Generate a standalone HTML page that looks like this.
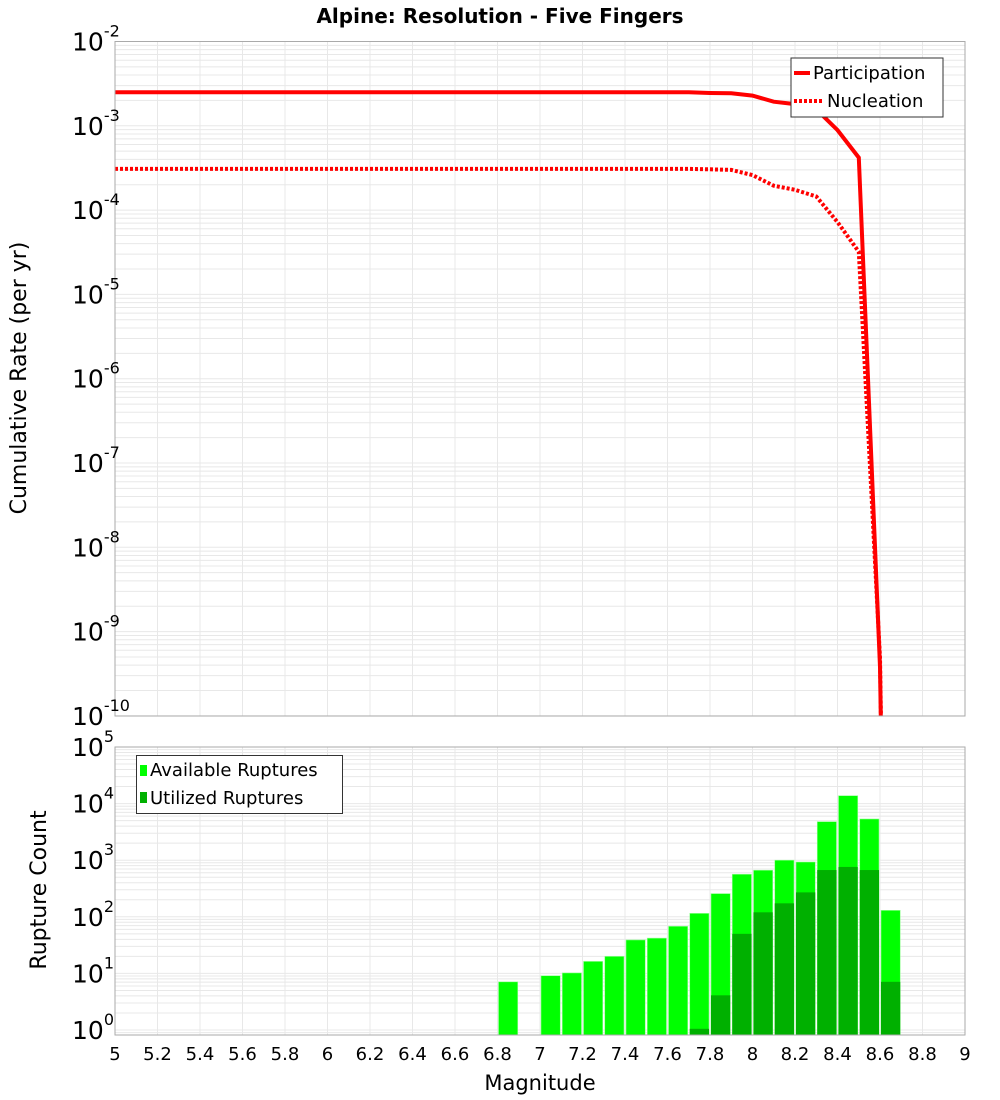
<!DOCTYPE html>
<html><head><meta charset="utf-8"><style>
html,body{margin:0;background:#fff;width:1000px;height:1100px;overflow:hidden;}
svg{display:block;}
svg text{font-family:"DejaVu Sans","Liberation Sans",sans-serif;}
</style></head><body>
<svg id="chart" width="1000" height="1100" xmlns="http://www.w3.org/2000/svg">
<defs><clipPath id="clipTop"><rect x="115" y="41.5" width="850" height="674.5"/></clipPath></defs>
<rect width="1000" height="1100" fill="#fff"/>
<text x="500" y="23" text-anchor="middle" font-size="20" font-weight="bold">Alpine: Resolution - Five Fingers</text>
<g id="top-grid"></g><g id="bot-grid"></g>
<g id="bars"></g><g id="lines"></g>
<rect x="115" y="41.5" width="850" height="674.5" fill="none" stroke="#aaa"/>
<rect x="115" y="747" width="850" height="288" fill="none" stroke="#aaa"/>
<g id="labels"></g>
<text transform="translate(26,378) rotate(-90)" text-anchor="middle" font-size="22">Cumulative Rate (per yr)</text>
<text transform="translate(46,890) rotate(-90)" text-anchor="middle" font-size="22">Rupture Count</text>
<text x="540" y="1090" text-anchor="middle" font-size="21">Magnitude</text>
<g>
<rect x="791" y="58" width="152" height="59" fill="#fff" stroke="#333"/>
<line x1="794" y1="73" x2="810" y2="73" stroke="#f00" stroke-width="4"/>
<text x="813" y="79" font-size="18">Participation</text>
<line x1="794" y1="101" x2="823" y2="101" stroke="#f00" stroke-width="4" stroke-dasharray="3,2"/>
<text x="827" y="107" font-size="18">Nucleation</text>
</g>
<g>
<rect x="136.5" y="755.5" width="206" height="58" fill="#fff" stroke="#333"/>
<rect x="140" y="765" width="7" height="11" fill="#00ff00"/>
<text x="150" y="776" font-size="18">Available Ruptures</text>
<rect x="140" y="792" width="7" height="11" fill="#00b000"/>
<text x="150" y="804" font-size="18">Utilized Ruptures</text>
</g>
</svg>
<script>
const mags=[5,7.7,7.8,7.9,8.0,8.1,8.2,8.3,8.4,8.5,8.6,8.7];
const participation=[2.5e-3,2.5e-3,2.45e-3,2.43e-3,2.28e-3,1.93e-3,1.81e-3,1.57e-3,8.9e-4,4.2e-4,3.8e-10,1e-30];
const nucleation=[3.08e-4,3.08e-4,3.05e-4,3.0e-4,2.6e-4,1.95e-4,1.74e-4,1.45e-4,7.2e-5,3.2e-5,4.9e-10,1e-30];
const binStarts=[6.8,7.0,7.1,7.2,7.3,7.4,7.5,7.6,7.7,7.8,7.9,8.0,8.1,8.2,8.3,8.4,8.5,8.6];
const available=[7.1,9.1,10.2,16.3,20,39,42,68,115,257,565,665,1000,930,4800,13800,5350,130];
const utilized=[0,0,0,0,0,0,0,0,1.05,4.1,50,120,173,270,670,760,670,7.1];
const xTicks=["5","5.2","5.4","5.6","5.8","6","6.2","6.4","6.6","6.8","7","7.2","7.4","7.6","7.8","8","8.2","8.4","8.6","8.8","9"];
const topExps=[-2,-3,-4,-5,-6,-7,-8,-9,-10];
const botExps=[5,4,3,2,1,0];

const NS="http://www.w3.org/2000/svg";
function mk(tag,attrs,parent){const e=document.createElementNS(NS,tag);for(const k in attrs)e.setAttribute(k,attrs[k]);parent.appendChild(e);return e;}
const X=m=>115+(m-5)*212.5;
const Yt=v=>{const l=Math.log10(v);return 41.5+(-2-l)*84.3;};
const Yb=v=>{const l=Math.log10(v);return 1030-l*56.6;};

const tg=document.getElementById('top-grid'),bg=document.getElementById('bot-grid');
for(let i=0;i<=20;i++){const x=X(5+i*0.2);
 let l=mk('line',{x1:x,x2:x,y1:41.5,y2:716,stroke:'#e8e8e8'},tg);
 
 
 l=mk('line',{x1:x,x2:x,y1:747,y2:1035,stroke:'#e8e8e8'},bg);
 
 }
for(let e=-10;e<-2;e++)for(let k=1;k<=9;k++){const y=Yt(k*Math.pow(10,e));
 const l=mk('line',{x1:115,x2:965,y1:y,y2:y,stroke:'#e8e8e8'},tg);
 
 }
for(let e=-1;e<5;e++)for(let k=1;k<=9;k++){const y=Yb(k*Math.pow(10,e));if(y>1035||y<747)continue;
 const l=mk('line',{x1:115,x2:965,y1:y,y2:y,stroke:'#e8e8e8'},bg);
 
 }

const bars=document.getElementById('bars');
binStarts.forEach((m,i)=>{const x0=X(m)+1,w=212.5*0.1-2;
 if(available[i]>0){const y=Yb(available[i]);const r=mk('rect',{x:x0,y:y,width:w,height:1035-y,fill:'#00ff00',stroke:'#9f9',"stroke-width":0.6},bars);
  
  }
 if(utilized[i]>0){const y=Yb(utilized[i]);const r=mk('rect',{x:x0,y:y,width:w,height:1035-y,fill:'#00b000'},bars);
  
  }
});

const lines=document.getElementById('lines');
function path(vals){return vals.map((v,i)=>(i?'L':'M')+X(mags[i]).toFixed(1)+','+Math.min(Yt(v),2000).toFixed(1)).join(' ');}
let p=mk('path',{d:path(participation),fill:'none',stroke:'#f00','stroke-width':4,'clip-path':'url(#clipTop)'},lines);


p=mk('path',{d:path(nucleation),fill:'none',stroke:'#f00','stroke-width':4,'stroke-dasharray':'3,2','clip-path':'url(#clipTop)'},lines);



const lab=document.getElementById('labels');
xTicks.forEach((t,i)=>{const x=X(5+i*0.2);const e=mk('text',{x:x,y:1060,'text-anchor':'middle','font-size':18},lab);e.textContent=t;
 
 });
function ylab(y,exp){const e=mk('text',{x:72,y:y+9,'font-size':25},lab);
 
 
 e.textContent='10';const s=mk('tspan',{dy:-14,'font-size':16},e);s.textContent=String(exp);}
topExps.forEach(ex=>ylab(Yt(Math.pow(10,ex)),ex));
botExps.forEach(ex=>ylab(Yb(Math.pow(10,ex)),ex));
</script>
</body></html>
